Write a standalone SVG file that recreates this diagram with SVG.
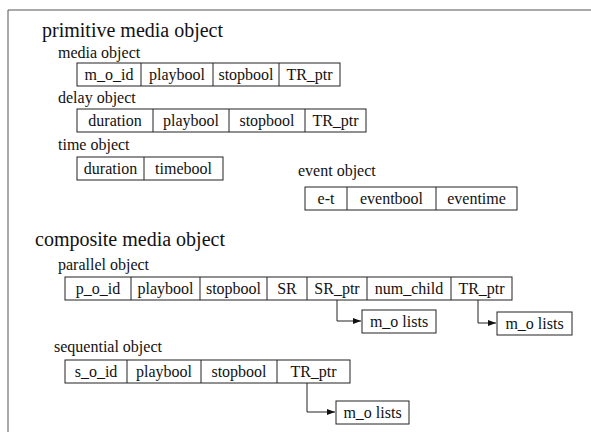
<svg xmlns="http://www.w3.org/2000/svg" width="591" height="432" viewBox="0 0 591 432">
<style>
text{font-family:"Liberation Serif","Times New Roman",serif;fill:#111}
.h1{font-size:20px}
.h2{font-size:16px}
.c{font-size:16px;text-anchor:middle}
.box{fill:#fff;stroke:#222;stroke-width:1}
.div{stroke:#222;stroke-width:1}
.con{fill:none;stroke:#222;stroke-width:1}
.frame{stroke:#555;stroke-width:1;fill:none}
</style>
<defs>
<marker id="ah" markerWidth="8" markerHeight="6" refX="8" refY="3" orient="auto" markerUnits="userSpaceOnUse">
<path d="M0,0 L8,3 L0,6 Z" fill="#111"/>
</marker>
</defs>
<path class="frame" d="M8,432 V10 H591"/>
<text class="h1" x="42" y="37">primitive media object</text>
<g id="media">
<text class="h2" x="58" y="58">media object</text>
<rect class="box" x="77" y="63" width="263" height="23"/>
<path class="div" d="M141,63V86M213,63V86M279,63V86"/>
<text class="c" x="109" y="80">m_o_id</text>
<text class="c" x="177" y="80">playbool</text>
<text class="c" x="246" y="80">stopbool</text>
<text class="c" x="309.5" y="80">TR_ptr</text>
</g>
<g id="delay">
<text class="h2" x="58" y="103">delay object</text>
<rect class="box" x="77" y="109" width="289" height="23"/>
<path class="div" d="M153,109V132M229,109V132M305,109V132"/>
<text class="c" x="115" y="126">duration</text>
<text class="c" x="191" y="126">playbool</text>
<text class="c" x="267" y="126">stopbool</text>
<text class="c" x="335.5" y="126">TR_ptr</text>
</g>
<g id="time">
<text class="h2" x="58" y="150">time object</text>
<rect class="box" x="77" y="157" width="146" height="23"/>
<path class="div" d="M144,157V180"/>
<text class="c" x="110.5" y="174">duration</text>
<text class="c" x="183.5" y="174">timebool</text>
</g>
<g id="event">
<text class="h2" x="298" y="176">event object</text>
<rect class="box" x="305" y="187" width="212" height="23"/>
<path class="div" d="M347,187V210M436,187V210"/>
<text class="c" x="326" y="204">e-t</text>
<text class="c" x="391.5" y="204">eventbool</text>
<text class="c" x="476.5" y="204">eventime</text>
</g>
<text class="h1" x="35" y="246">composite media object</text>
<g id="parallel">
<text class="h2" x="58" y="270">parallel object</text>
<rect class="box" x="65" y="277" width="447" height="23"/>
<path class="div" d="M131,277V300M200,277V300M267,277V300M307,277V300M367,277V300M451,277V300"/>
<text class="c" x="98" y="294">p_o_id</text>
<text class="c" x="165.5" y="294">playbool</text>
<text class="c" x="233.5" y="294">stopbool</text>
<text class="c" x="287" y="294">SR</text>
<text class="c" x="337" y="294">SR_ptr</text>
<text class="c" x="409" y="294">num_child</text>
<text class="c" x="481.5" y="294">TR_ptr</text>
</g>
<g id="mo1">
<rect class="box" x="362" y="310" width="74" height="23"/>
<text class="c" x="399" y="327">m_o lists</text>
</g>
<g id="mo2">
<rect class="box" x="497" y="312" width="75" height="23"/>
<text class="c" x="534.5" y="329">m_o lists</text>
</g>
<g id="sequential">
<text class="h2" x="54" y="352">sequential object</text>
<rect class="box" x="65" y="360" width="285" height="23"/>
<path class="div" d="M127,360V383M201,360V383M277,360V383"/>
<text class="c" x="96" y="377">s_o_id</text>
<text class="c" x="164" y="377">playbool</text>
<text class="c" x="239" y="377">stopbool</text>
<text class="c" x="313.5" y="377">TR_ptr</text>
</g>
<g id="mo3">
<rect class="box" x="336" y="401" width="73" height="23"/>
<text class="c" x="372.5" y="418">m_o lists</text>
</g>
<g id="connectors">
<path class="con" d="M337,300V321H361" marker-end="url(#ah)"/>
<path class="con" d="M478,300V323H496" marker-end="url(#ah)"/>
<path class="con" d="M307,383V412H335" marker-end="url(#ah)"/>
</g>
</svg>
